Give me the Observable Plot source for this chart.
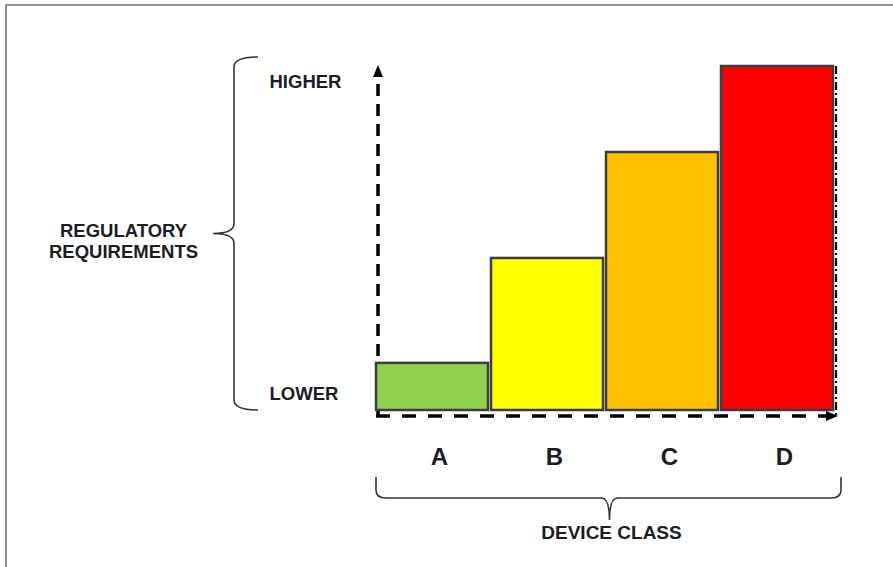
<!DOCTYPE html>
<html>
<head>
<meta charset="utf-8">
<script src="https://cdn.jsdelivr.net/npm/d3@7"></script>
<script src="https://cdn.jsdelivr.net/npm/@observablehq/plot@0.6"></script>
<style>
  html, body { margin: 0; padding: 0; background: #fff; }
  #chart svg { display: block; }
</style>
</head>
<body>
<div id="chart"></div>
<script>
// ---- data ----
const classes = ["A", "B", "C", "D"];
const requirement = [13.7, 44.2, 75, 100];
const classColors = ["#92d050", "#ffff00", "#ffc000", "#ff0000"];
const levelLabels = ["LOWER", "HIGHER"];
const levelValues = [4.7, 95.6];
const yTitle = ["REGULATORY", "REQUIREMENTS"];
const xTitle = "DEVICE CLASS";

const bars = classes.map((c, i) => ({cls: c, value: requirement[i], color: classColors[i]}));
const levels = levelLabels.map((l, i) => ({label: l, value: levelValues[i]}));

const FONT = "'Liberation Sans', Arial, Helvetica, sans-serif";
const INK = "#1c1c24";

// decorations drawn from the scales
function decorations(index, scales, values, dim) {
  const {x, y} = scales;
  const bw = x.bandwidth();
  const x0 = x(classes[0]);
  const x1 = x(classes[classes.length - 1]) + bw;
  const y0 = y(0);
  const yTop = y(100);
  const g = d3.create("svg:g").attr("fill", "none");

  // outer frame (top & left edges visible)
  g.append("rect").attr("x", 6).attr("y", 5)
    .attr("width", dim.width + 20).attr("height", dim.height + 20)
    .attr("stroke", "#777").attr("stroke-width", 1.6);

  // dashed y axis with arrow
  const ax = x0 + 2;
  g.append("line").attr("x1", ax).attr("x2", ax)
    .attr("y1", y0 + 6).attr("y2", yTop + 12)
    .attr("stroke", "#000").attr("stroke-width", 3.5).attr("stroke-dasharray", "12,8");
  g.append("path").attr("d", `M${ax},${yTop - 1} L${ax - 5},${yTop + 11} L${ax + 5},${yTop + 11} Z`)
    .attr("fill", "#000");

  // dashed x axis with arrow
  const ay = y0 + 6;
  g.append("line").attr("x1", x0).attr("x2", x1 - 6)
    .attr("y1", ay).attr("y2", ay)
    .attr("stroke", "#000").attr("stroke-width", 3.5).attr("stroke-dasharray", "14,12");
  g.append("path").attr("d", `M${x1 + 5},${ay} L${x1 - 7},${ay - 5} L${x1 - 7},${ay + 5} Z`)
    .attr("fill", "#000");

  // dash-dot line at right of last bar
  g.append("line").attr("x1", x1 + 3).attr("x2", x1 + 3)
    .attr("y1", yTop).attr("y2", ay)
    .attr("stroke", "#000").attr("stroke-width", 2.2).attr("stroke-dasharray", "8,3,2,3");

  // left brace
  const bt = yTop - 9, bb = y0, bm = (bt + bb) / 2;
  const bx = x0 - 142, tipX = bx - 21, endX = bx + 24;
  g.append("path").attr("d",
    `M${endX},${bt} Q${bx},${bt} ${bx},${bt + 10} L${bx},${bm - 10} Q${bx},${bm} ${tipX},${bm}` +
    ` Q${bx},${bm} ${bx},${bm + 10} L${bx},${bb - 10} Q${bx},${bb} ${endX},${bb}`)
    .attr("stroke", "#333").attr("stroke-width", 1.6);

  // bottom brace
  const lx = x0, rx = x1 + 8, ty = y0 + 67, hy = y0 + 88, tipY = y0 + 110, mx = (lx + rx) / 2 + 1;
  g.append("path").attr("d",
    `M${lx},${ty} L${lx},${hy - 8} Q${lx},${hy} ${lx + 10},${hy} L${mx - 8},${hy} Q${mx},${hy} ${mx},${tipY}` +
    ` Q${mx},${hy} ${mx + 8},${hy} L${rx - 10},${hy} Q${rx},${hy} ${rx},${hy - 8} L${rx},${ty}`)
    .attr("stroke", "#333").attr("stroke-width", 1.6);

  return g.node();
}

const chart = Plot.plot({
  width: 893,
  height: 567,
  marginLeft: 375,
  marginRight: 58,
  marginTop: 66,
  marginBottom: 157,
  style: {fontFamily: FONT, background: "#fff", overflow: "visible"},
  x: {domain: classes, paddingInner: 0.025, paddingOuter: 0, axis: null},
  y: {domain: [0, 100], axis: null},
  marks: [
    decorations,
    Plot.barY(bars, {
      x: "cls", y: "value", fill: "color",
      stroke: "#3a3e44", strokeWidth: 2.5
    }),
    Plot.axisX({
      tickSize: 0, tickPadding: 37, fontSize: 24, fontWeight: "bold",
      fill: INK, dx: 7, label: null
    }),
    Plot.text(levels, {
      y: "value", text: "label", frameAnchor: "left", textAnchor: "start",
      dx: -106, fontSize: 18.5, fontWeight: "bold", fill: INK
    }),
    Plot.text([yTitle.join("\n")], {
      text: d => d, frameAnchor: "left", textAnchor: "middle",
      dx: -252, dy: 2, lineHeight: 1.15, fontSize: 18.5, fontWeight: "bold", fill: INK
    }),
    Plot.text([xTitle], {
      text: d => d, frameAnchor: "bottom", textAnchor: "middle",
      dx: 6, dy: 128, fontSize: 19, fontWeight: "bold", fill: INK
    })
  ]
});

document.getElementById("chart").appendChild(chart);
</script>
</body>
</html>
